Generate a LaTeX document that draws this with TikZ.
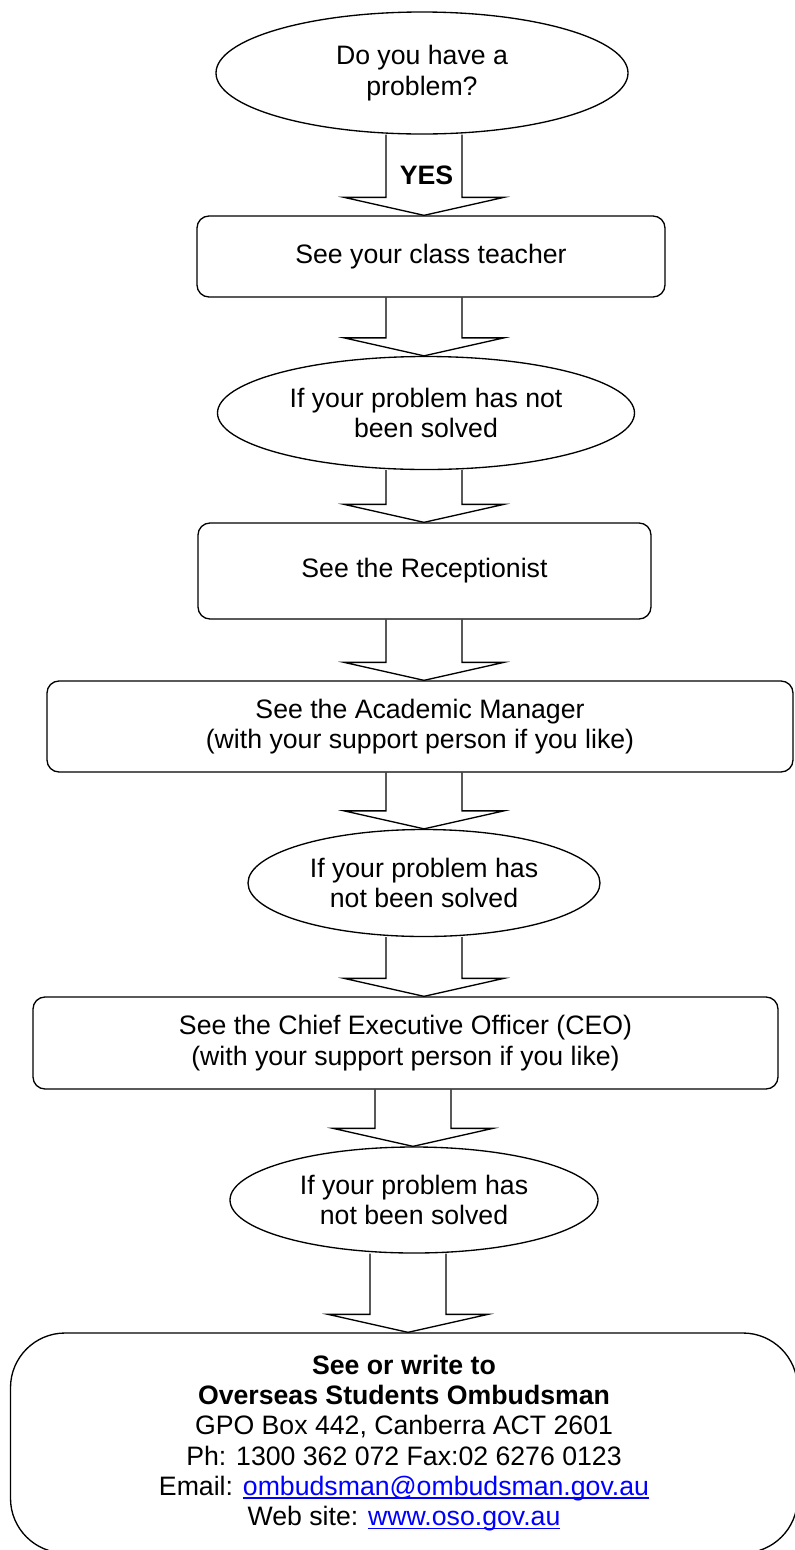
\documentclass[tikz,border=0pt]{standalone}
\usepackage{fontspec}
\setmainfont{Liberation Sans}
\usetikzlibrary{shapes.geometric,calc}
% blue underlined link text
\newcommand\lnk[1]{{\color{blue}\setbox0\hbox{#1}\rlap{\rule[-2.5pt]{\wd0}{.9pt}}\box0}}
\begin{document}
\begin{tikzpicture}[x=.75pt,y=-.75pt,line join=miter,line width=1pt,
	font=\fontsize{20pt}{22.7pt}\selectfont,
	oval/.style={ellipse,draw,align=center,inner sep=0pt},
	stepbox/.style={draw,rounded corners=9pt,align=center,inner sep=0pt}]
	\useasboundingbox (0,0) rectangle (794,1550);
	% the chart
	\node[oval,minimum width=309pt,minimum height=91.5pt] (q) at (422,73) {Do you have a\\problem?};
	\node[stepbox,minimum width=351pt,minimum height=60.75pt] (t) at (431,256.5) {See your class teacher};
	\node[oval,minimum width=312.75pt,minimum height=84.75pt] (n1) at (426,413) {If your problem has not\\been solved};
	\node[stepbox,minimum width=339.75pt,minimum height=72pt] (r) at (424.5,571) {See the Receptionist};
	\node[stepbox,minimum width=559.5pt,minimum height=68.25pt] (m) at (420,726.5) {See the Academic Manager\\(with your support person if you like)};
	\node[oval,minimum width=264pt,minimum height=80.25pt] (n2) at (424,883) {If your problem has\\not been solved};
	\node[stepbox,minimum width=558.75pt,minimum height=69pt] (c) at (405.5,1043) {See the Chief Executive Officer (CEO)\\(with your support person if you like)};
	\node[oval,minimum width=276pt,minimum height=79.5pt] (n3) at (414,1200) {If your problem has\\not been solved};
	\node[stepbox,rounded corners=41pt,minimum width=590.25pt,minimum height=165pt] (o) at (404,1443) {%
		\textbf{See or write to}\\
		\textbf{Overseas Students Ombudsman}\\
		GPO Box 442, Canberra ACT 2601\\
		Ph: 1300 362 072 Fax:02 6276 0123\\
		Email: \lnk{ombudsman@ombudsman.gov.au}\\
		Web site: \lnk{www.oso.gov.au}};
	% block arrows
	\foreach \a/\b/\x in {q/t/424,t/n1/424,n1/r/424,r/m/424,m/n2/424,n2/c/424,c/n3/413,n3/o/408}{
		\draw ($(\x,0 |- \a.south)+(-38,0)$) -- ($(\x,0 |- \b.north)+(-38,-18)$) -- ++(-42,0)
			-- (\x,0 |- \b.north) -- ($(\x,0 |- \b.north)+(80,-18)$) -- ++(-42,0)
			-- ($(\x,0 |- \a.south)+(38,0)$);
	}
	\node[font=\fontsize{20pt}{22.7pt}\selectfont\bfseries] (yes) at ($(q.south)!.5!(t.north)$) {YES};
\end{tikzpicture}
\end{document}
